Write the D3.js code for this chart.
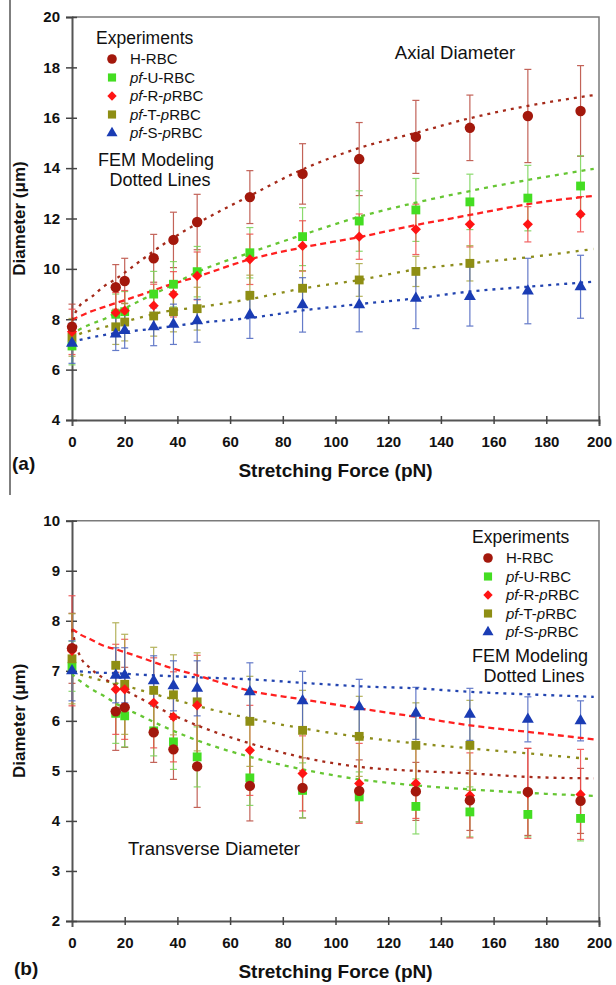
<!DOCTYPE html>
<html>
<head>
<meta charset="utf-8">
<script src="https://cdn.jsdelivr.net/npm/d3@7"></script>
<style>
body { margin: 0; background: #fff; }
svg text { font-family: "Liberation Sans", Arial, sans-serif; fill: #111; }
</style>
</head>
<body>
<svg width="616" height="985"></svg>
<script>
// stretching force of each experiment (pN)
const forceX = [0, 16.6, 20, 31, 38.5, 47.5, 67.5, 87.5, 109, 130.5, 151, 173, 193];
// x positions of the FEM model curves
const femX = [0, 1, 3, 7, 12, 16.6, 27, 35, 47.5, 67.5, 87.5, 109, 130.5, 151, 173, 198];

const xTicks = [0, 20, 40, 60, 80, 100, 120, 140, 160, 180, 200];
const axialTicks = [4, 6, 8, 10, 12, 14, 16, 18, 20];
const transTicks = [2, 3, 4, 5, 6, 7, 8, 9, 10];

const seriesNames = ["H-RBC", "pf-U-RBC", "pf-R-pRBC", "pf-T-pRBC", "pf-S-pRBC"];

// (a) axial diameter, experiments (um) and error
const axialH = [7.7, 9.27, 9.52, 10.42, 11.15, 11.86, 12.85, 13.77, 14.36, 15.24, 15.6, 16.07, 16.27];
const axialHErr = [0.9, 0.9, 0.9, 0.95, 1.1, 1.1, 1.05, 1.2, 1.45, 1.45, 1.3, 1.85, 1.8];
const axialU = [6.94, 8.2, 8.3, 9.0, 9.39, 9.89, 10.64, 11.28, 11.9, 12.34, 12.66, 12.81, 13.29];
const axialUErr = [0.75, 0.8, 0.8, 0.9, 0.9, 1.0, 1.0, 1.15, 1.2, 1.25, 1.1, 1.3, 1.2];
const axialR = [7.5, 8.26, 8.34, 8.54, 8.99, 9.72, 10.38, 10.91, 11.28, 11.57, 11.77, 11.77, 12.17];
const axialRErr = [0.9, 0.8, 0.8, 0.85, 0.9, 0.95, 1.0, 1.0, 0.9, 1.0, 0.9, 0.7, 0.7];
const axialT = [7.28, 7.7, 7.89, 8.13, 8.3, 8.42, 8.95, 9.23, 9.56, 9.9, 10.22];
const axialTErr = [0.75, 0.7, 0.75, 0.8, 0.8, 0.85, 0.8, 0.7, 0.65, 0.6, 0.7];
const axialS = [7.05, 7.41, 7.55, 7.7, 7.8, 7.94, 8.17, 8.57, 8.57, 8.83, 8.9, 9.12, 9.29];
const axialSErr = [0.8, 0.65, 0.7, 0.75, 0.8, 0.85, 0.93, 1.08, 1.07, 1.2, 1.17, 1.3, 1.25];

// (a) FEM model curves
const axialFemH = [7.95, 8.2, 8.55, 8.85, 9.3, 9.6, 10.4, 11.0, 11.8, 12.9, 13.95, 14.8, 15.4, 15.98, 16.47, 16.9];
const axialFemU = [7.3, 7.45, 7.6, 7.8, 8.0, 8.25, 8.8, 9.2, 9.87, 10.64, 11.35, 12.07, 12.63, 13.09, 13.53, 13.97];
const axialFemR = [7.97, 8.03, 8.12, 8.3, 8.48, 8.64, 9.0, 9.3, 9.69, 10.38, 10.85, 11.26, 11.74, 12.14, 12.57, 12.9];
const axialFemT = [7.2, 7.3, 7.42, 7.55, 7.68, 7.8, 8.1, 8.3, 8.47, 8.8, 9.22, 9.56, 9.98, 10.22, 10.46, 10.79];
const axialFemS = [7.08, 7.12, 7.18, 7.27, 7.37, 7.45, 7.58, 7.68, 7.85, 8.05, 8.35, 8.6, 8.83, 9.1, 9.29, 9.49];

// (b) transverse diameter, experiments (um) and error
const transH = [7.45, 6.19, 6.27, 5.77, 5.43, 5.09, 4.7, 4.66, 4.6, 4.59, 4.41, 4.58, 4.4];
const transHErr = [0.7, 0.78, 0.8, 0.6, 0.6, 0.82, 0.7, 0.6, 0.62, 0.58, 0.6, 0.87, 0.65];
const transU = [7.09, 6.15, 6.1, 5.8, 5.58, 5.28, 4.86, 4.61, 4.48, 4.29, 4.18, 4.13, 4.05];
const transUErr = [0.5, 0.6, 0.62, 0.5, 0.55, 0.6, 0.55, 0.55, 0.5, 0.55, 0.5, 0.45, 0.45];
const transR = [7.4, 6.63, 6.63, 6.36, 6.08, 6.31, 5.41, 4.95, 4.75, 4.75, 4.51, 4.55, 4.53];
const transRErr = [1.1, 0.9, 1.0, 0.9, 0.9, 1.0, 0.9, 0.75, 0.8, 0.7, 0.85, 0.9, 0.9];
const transT = [7.24, 7.11, 6.73, 6.61, 6.52, 6.38, 5.99, 5.81, 5.69, 5.51, 5.51];
const transTErr = [0.9, 0.85, 1.0, 0.86, 0.8, 0.98, 0.9, 0.8, 0.8, 0.85, 0.9];
const transS = [7.0, 6.91, 6.91, 6.8, 6.7, 6.65, 6.58, 6.4, 6.28, 6.15, 6.13, 6.03, 6.0];
const transSErr = [0.6, 0.55, 0.55, 0.5, 0.5, 0.55, 0.58, 0.59, 0.55, 0.52, 0.52, 0.45, 0.4];

// (b) FEM model curves
const transFemH = [7.83, 7.6, 7.3, 7.05, 6.85, 6.71, 6.42, 6.2, 5.91, 5.55, 5.27, 5.08, 5.0, 4.95, 4.88, 4.85];
const transFemU = [6.95, 6.88, 6.8, 6.65, 6.5, 6.35, 6.08, 5.88, 5.61, 5.28, 5.03, 4.83, 4.71, 4.63, 4.56, 4.5];
const transFemR = [7.83, 7.8, 7.73, 7.63, 7.5, 7.43, 7.25, 7.1, 6.91, 6.6, 6.43, 6.25, 6.08, 5.91, 5.78, 5.63];
const transFemT = [7.0, 6.97, 6.93, 6.87, 6.8, 6.75, 6.6, 6.48, 6.3, 6.05, 5.85, 5.68, 5.55, 5.45, 5.35, 5.23];
const transFemS = [7.01, 7.0, 6.99, 6.97, 6.96, 6.95, 6.92, 6.9, 6.87, 6.83, 6.76, 6.69, 6.65, 6.58, 6.53, 6.48];

// diamonds are squares turned 45 degrees (rot)
const styles = {
  "H-RBC":     { fill: "#a3180c", err: "#b9483c", line: "#a52a1a", dash: "3,5", symbol: d3.symbolCircle, size: 85, rot: 0 },
  "pf-U-RBC":  { fill: "#44dd22", err: "#77d455", line: "#66c633", dash: "4,5", symbol: d3.symbolSquare, size: 78, rot: 0 },
  "pf-R-pRBC": { fill: "#ff1414", err: "#f04848", line: "#ff2020", dash: "6,4", symbol: d3.symbolSquare, size: 52, rot: 45 },
  "pf-T-pRBC": { fill: "#8e8e14", err: "#a8a640", line: "#8c8c1a", dash: "3,6", symbol: d3.symbolSquare, size: 78, rot: 0 },
  "pf-S-pRBC": { fill: "#1a3cb4", err: "#4a64c0", line: "#2244b0", dash: "3,5", symbol: d3.symbolTriangle, size: 62, rot: 0 }
};

const svg = d3.select("svg");
const left = 72, right = 599;

// thin frame line left of panel (a)
svg.append("line")
  .attr("x1", 10).attr("x2", 10).attr("y1", 0).attr("y2", 495)
  .attr("stroke", "#555").attr("stroke-width", 1.5);

function drawPanel(cfg) {
  const x = d3.scaleLinear().domain([0, 200]).range([left, right]);
  const y = d3.scaleLinear().domain(cfg.yDomain).range([cfg.bottom, cfg.top]);
  const g = svg.append("g");

  // top and right frame
  g.append("path")
    .attr("d", `M${left},${cfg.top}H${right}V${cfg.bottom}`)
    .attr("fill", "none").attr("stroke", "#7a7a7a").attr("stroke-width", 1.5);

  // axes
  const xAxis = g.append("g").attr("transform", `translate(0,${cfg.bottom})`)
    .call(d3.axisBottom(x).tickValues(xTicks).tickSize(6).tickFormat(d3.format("d")));
  const yAxis = g.append("g").attr("transform", `translate(${left},0)`)
    .call(d3.axisLeft(y).tickValues(cfg.yTicks).tickSize(6).tickFormat(d3.format("d")));
  [xAxis, yAxis].forEach(a => {
    a.select(".domain").attr("stroke", "#555").attr("stroke-width", 2);
    a.selectAll(".tick line").attr("stroke", "#444").attr("stroke-width", 1.5);
    a.selectAll("text").attr("font-size", 15).attr("font-weight", "bold")
      .attr("font-family", "'Liberation Sans', Arial, sans-serif").attr("fill", "#111");
  });
  // ticks cross the axis line
  xAxis.selectAll(".tick line").attr("y1", -4).attr("y2", 4);
  xAxis.selectAll(".tick text").attr("y", 16);
  yAxis.selectAll(".tick line").attr("x1", 5).attr("x2", -6);
  yAxis.selectAll(".tick text").attr("x", -12);
  xAxis.select(".tick").select("line").remove();

  // error bars
  cfg.series.forEach(s => {
    const st = styles[s.name];
    const pts = s.values.map((v, i) => ({ x: forceX[i], v: v, e: s.err[i] }));
    const eb = g.append("g").attr("stroke", st.err).attr("stroke-width", 1.2).attr("opacity", 0.85);
    eb.selectAll("line.v").data(pts).join("line").attr("class", "v")
      .attr("x1", d => x(d.x)).attr("x2", d => x(d.x))
      .attr("y1", d => y(d.v - d.e)).attr("y2", d => y(d.v + d.e));
    eb.selectAll("line.t").data(pts).join("line").attr("class", "t")
      .attr("x1", d => x(d.x) - 3.5).attr("x2", d => x(d.x) + 3.5)
      .attr("y1", d => y(d.v + d.e)).attr("y2", d => y(d.v + d.e));
    eb.selectAll("line.b").data(pts).join("line").attr("class", "b")
      .attr("x1", d => x(d.x) - 3.5).attr("x2", d => x(d.x) + 3.5)
      .attr("y1", d => y(d.v - d.e)).attr("y2", d => y(d.v - d.e));
  });

  // FEM model lines
  const line = d3.line().x((d, i) => x(femX[i])).y(d => y(d)).curve(d3.curveMonotoneX);
  cfg.fem.forEach(f => {
    const st = styles[f.name];
    g.append("path").datum(f.values)
      .attr("d", line)
      .attr("fill", "none").attr("stroke", st.line).attr("stroke-width", 2.3)
      .attr("stroke-dasharray", st.dash);
  });

  // markers
  const order = ["pf-U-RBC", "pf-T-pRBC", "pf-S-pRBC", "pf-R-pRBC", "H-RBC"];
  order.forEach(name => {
    const s = cfg.series.find(d => d.name === name);
    const st = styles[name];
    g.append("g").selectAll("path").data(s.values).join("path")
      .attr("transform", (d, i) => `translate(${x(forceX[i])},${y(d)}) rotate(${st.rot})`)
      .attr("d", d3.symbol().type(st.symbol).size(st.size))
      .attr("fill", st.fill);
  });

  // legend
  const lg = g.append("g").attr("transform", `translate(${cfg.legend[0]},${cfg.legend[1]})`);
  lg.append("text").attr("x", 0).attr("y", 0).attr("font-size", 17.5).text("Experiments");
  seriesNames.forEach((name, i) => {
    const st = styles[name];
    const yy = 15 + i * 18.5;
    lg.append("path").attr("transform", `translate(16,${yy}) rotate(${st.rot})`)
      .attr("d", d3.symbol().type(st.symbol).size(st.size * 0.85)).attr("fill", st.fill);
    const t = lg.append("text").attr("x", 34).attr("y", yy + 5).attr("font-size", 15);
    // italic prefixes for the parasite labels
    const parts = name.split("-");
    if (parts[0] === "pf") {
      t.append("tspan").attr("font-style", "italic").text("pf");
      t.append("tspan").text("-" + parts[1] + "-");
      if (parts[2].startsWith("p")) {
        t.append("tspan").attr("font-style", "italic").text("p");
        t.append("tspan").text(parts[2].slice(1));
      } else {
        t.append("tspan").text(parts[2]);
      }
    } else {
      t.text(name);
    }
  });
  lg.append("text").attr("x", cfg.femCx).attr("y", cfg.femY).attr("text-anchor", "middle")
    .attr("font-size", 18).text("FEM Modeling");
  lg.append("text").attr("x", cfg.femCx + 4).attr("y", cfg.femY + 20).attr("text-anchor", "middle")
    .attr("font-size", 18).text("Dotted Lines");

  // panel title
  g.append("text").attr("x", cfg.title[0]).attr("y", cfg.title[1])
    .attr("font-size", 18.5).attr("text-anchor", cfg.titleAnchor).text(cfg.titleText);

  // axis titles
  g.append("text").attr("x", (left + right) / 2).attr("y", cfg.bottom + 57)
    .attr("text-anchor", "middle").attr("font-size", 19).attr("font-weight", "bold")
    .text("Stretching Force (pN)");
  g.append("text")
    .attr("transform", `translate(25,${(cfg.top + cfg.bottom) / 2}) rotate(-90)`)
    .attr("text-anchor", "middle").attr("font-size", 17).attr("font-weight", "bold")
    .text("Diameter (\u03bcm)");
  g.append("text").attr("x", cfg.tag[0]).attr("y", cfg.tag[1])
    .attr("font-size", 19).attr("font-weight", "bold").text(cfg.tagText);
}

drawPanel({
  top: 17, bottom: 420, yDomain: [4, 20], yTicks: axialTicks,
  series: [
    { name: "H-RBC", values: axialH, err: axialHErr },
    { name: "pf-U-RBC", values: axialU, err: axialUErr },
    { name: "pf-R-pRBC", values: axialR, err: axialRErr },
    { name: "pf-T-pRBC", values: axialT, err: axialTErr },
    { name: "pf-S-pRBC", values: axialS, err: axialSErr }
  ],
  fem: [
    { name: "pf-S-pRBC", values: axialFemS },
    { name: "pf-T-pRBC", values: axialFemT },
    { name: "pf-U-RBC", values: axialFemU },
    { name: "pf-R-pRBC", values: axialFemR },
    { name: "H-RBC", values: axialFemH }
  ],
  legend: [96, 44], femCx: 60, femY: 122,
  title: [455, 59], titleAnchor: "middle", titleText: "Axial Diameter",
  tag: [12, 470], tagText: "(a)"
});

drawPanel({
  top: 520.7, bottom: 921, yDomain: [2, 10], yTicks: transTicks,
  series: [
    { name: "H-RBC", values: transH, err: transHErr },
    { name: "pf-U-RBC", values: transU, err: transUErr },
    { name: "pf-R-pRBC", values: transR, err: transRErr },
    { name: "pf-T-pRBC", values: transT, err: transTErr },
    { name: "pf-S-pRBC", values: transS, err: transSErr }
  ],
  fem: [
    { name: "pf-S-pRBC", values: transFemS },
    { name: "pf-T-pRBC", values: transFemT },
    { name: "pf-U-RBC", values: transFemU },
    { name: "pf-R-pRBC", values: transFemR },
    { name: "H-RBC", values: transFemH }
  ],
  legend: [472, 543], femCx: 58, femY: 119,
  title: [128, 855], titleAnchor: "start", titleText: "Transverse Diameter",
  tag: [14, 975], tagText: "(b)"
});
</script>
</body>
</html>
